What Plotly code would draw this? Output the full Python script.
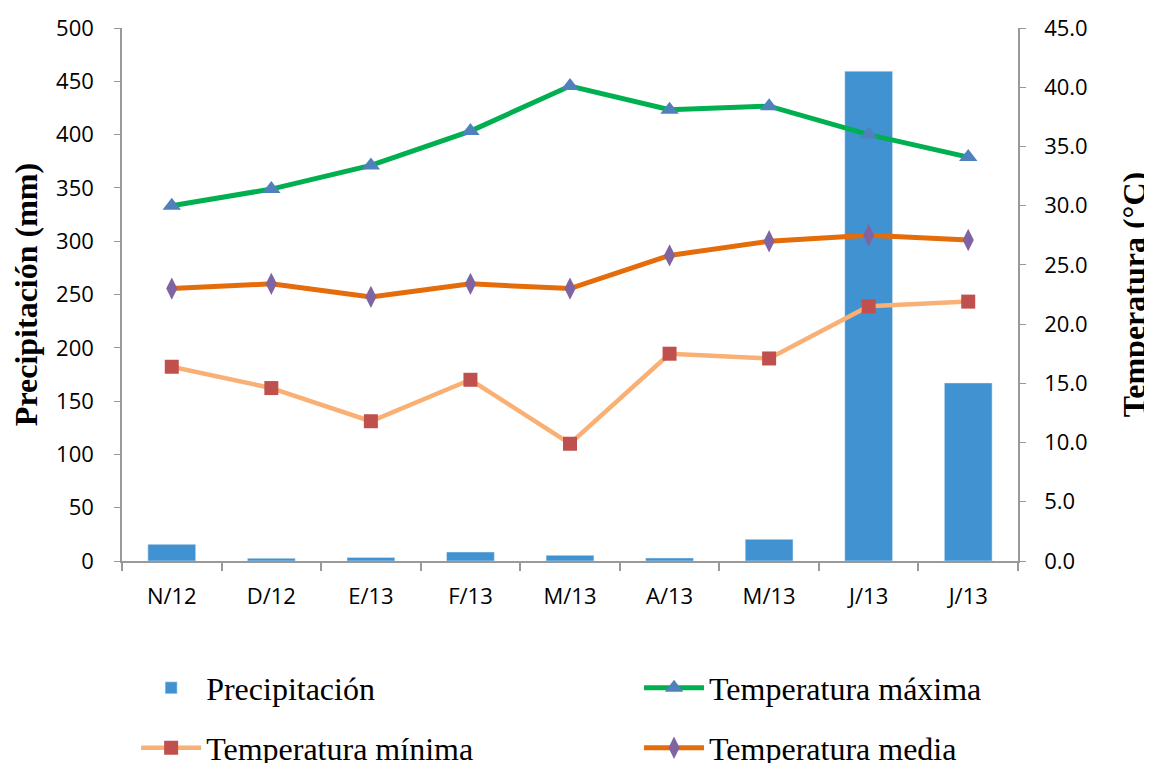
import plotly.graph_objects as go

months = ["N/12", "D/12", "E/13", "F/13", "M/13", "A/13", "M/13", "J/13", "J/13"]
precip = [15.6, 2.5, 3.4, 8.4, 5.3, 2.8, 20.3, 459.5, 167.0]
t_max = [30.0, 31.4, 33.4, 36.3, 40.1, 38.1, 38.4, 36.0, 34.1]
t_min = [16.4, 14.6, 11.8, 15.3, 9.9, 17.5, 17.1, 21.5, 21.9]
t_med = [23.0, 23.4, 22.3, 23.4, 23.0, 25.8, 27.0, 27.5, 27.1]

xpos = list(range(len(months)))
bounds = [i - 0.5 for i in range(len(months) + 1)]

fig = go.Figure()
fig.add_trace(go.Bar(x=xpos, y=precip, name="Precipitación", marker=dict(color="#4192D0"),
                     yaxis="y", legend="legend"))
fig.add_trace(go.Scatter(x=xpos, y=t_max, name="Temperatura máxima", mode="lines+markers",
                         line=dict(color="#00B050", width=5),
                         marker=dict(symbol="triangle-up", size=16, color="#4F81BD"),
                         yaxis="y2", legend="legend2"))
fig.add_trace(go.Scatter(x=xpos, y=t_min, name="Temperatura mínima", mode="lines+markers",
                         line=dict(color="#F9B074", width=4.5),
                         marker=dict(symbol="square", size=14, color="#C0504D"),
                         yaxis="y2", legend="legend3"))
fig.add_trace(go.Scatter(x=xpos, y=t_med, name="Temperatura media", mode="lines+markers",
                         line=dict(color="#E46C0A", width=5),
                         marker=dict(symbol="diamond-tall", size=16, color="#8064A2"),
                         yaxis="y2", legend="legend4"))

tickfont = dict(family="Open Sans, Liberation Sans, sans-serif", size=22, color="#000")
titlefont = dict(family="Liberation Serif, Times New Roman, serif", size=32, color="#000")
legfont = dict(family="Liberation Serif, Times New Roman, serif", size=32, color="#000")


def leg(x, y):
    return dict(x=x, y=y, xref="container", yref="container", xanchor="left",
                yanchor="middle", orientation="h", itemwidth=60, font=legfont,
                bgcolor="rgba(0,0,0,0)")


fig.update_layout(
    width=1144, height=755,
    margin=dict(l=114, r=134, t=20, b=202),
    paper_bgcolor="white", plot_bgcolor="white",
    bargap=0.52,
    xaxis=dict(range=[-0.5, len(months) - 0.5], tickvals=xpos, ticktext=months,
               ticks="", tickfont=tickfont, showline=True, linecolor="#999", linewidth=1.5,
               showgrid=False, zeroline=False, ticklabelstandoff=15, automargin=False,
               minor=dict(tickvals=bounds, ticks="outside", ticklen=8, tickcolor="#999",
                          tickwidth=1.5, showgrid=False)),
    yaxis=dict(range=[0, 500], dtick=50, tickfont=tickfont, showline=True, linecolor="#999",
               linewidth=1.5, ticks="outside", ticklen=6, tickcolor="#999", showgrid=False,
               zeroline=False, ticklabelstandoff=16, automargin=False,
               title=dict(text="<b>Precipitación (mm)</b>", font=titlefont, standoff=18)),
    yaxis2=dict(range=[0, 45], dtick=5, tickformat=".1f", overlaying="y", side="right",
                tickfont=tickfont, showline=True, linecolor="#999", linewidth=1.5,
                ticks="outside", ticklen=6, tickcolor="#999", showgrid=False, zeroline=False,
                ticklabelstandoff=14, automargin=False,
                title=dict(text="<b>Temperatura (°C)</b>", font=titlefont, standoff=37)),
    showlegend=True,
    legend=leg(0.112, 0.0993),
    legend2=leg(0.5516, 0.0993),
    legend3=leg(0.112, 0.0199),
    legend4=leg(0.5516, 0.0199),
)

fig.write_html("out.html")
